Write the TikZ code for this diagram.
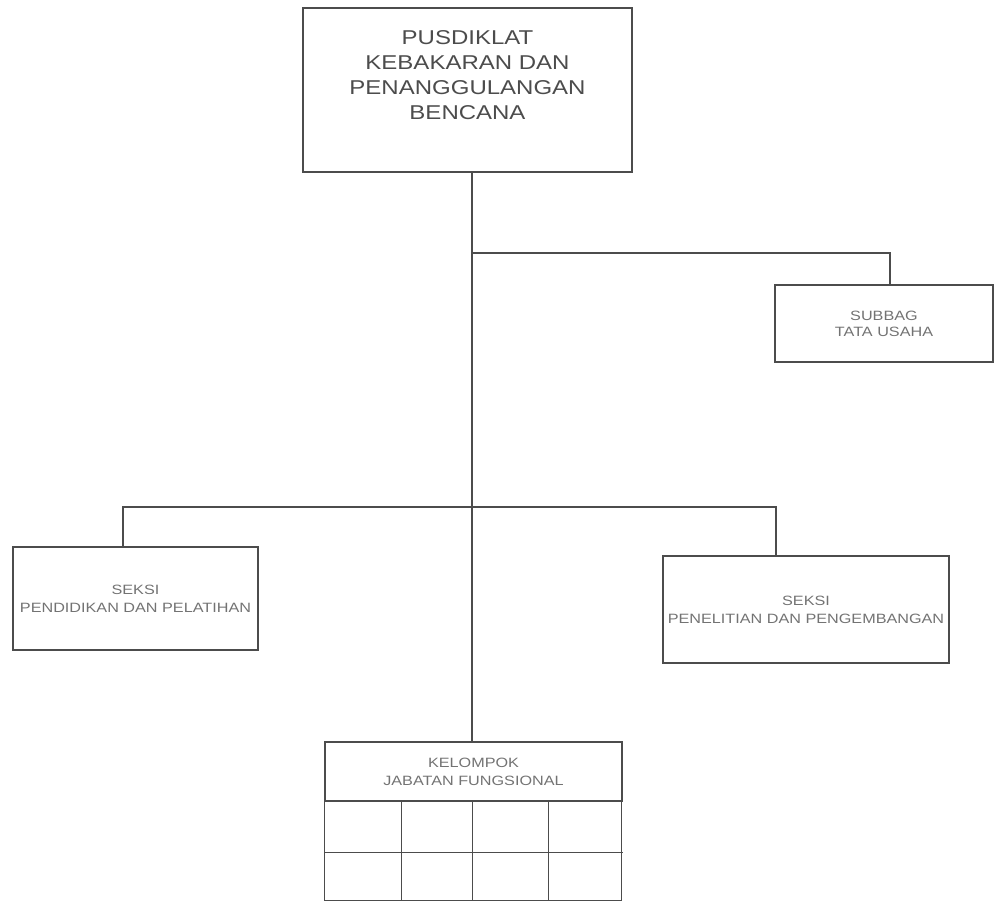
\documentclass[tikz,border=0pt]{standalone}
\usepackage{fontspec}
\newfontfamily\orgfont[FakeStretch=1.2]{Liberation Sans}

\begin{document}
\begin{tikzpicture}[x=1pt,y=-1pt,
		unitbox/.style={draw=black!70, line width=1.2pt, rectangle, inner sep=0pt, align=center,
			text=black!55, font=\orgfont\fontsize{13.5}{18}\selectfont},
		link/.style={draw=black!70, line width=1.2pt}]
			\useasboundingbox (0,0) rectangle (1002,904);
			% boxes
			\node[unitbox, minimum width=329pt, minimum height=164pt] (pusdiklat) at (467.5,90) {};
			\node[text=black!70, align=center, font=\orgfont\fontsize{20}{25}\selectfont] (pusdiklat-label) at (467.5,75) {PUSDIKLAT\\KEBAKARAN DAN\\PENANGGULANGAN\\BENCANA};
			\node[unitbox, minimum width=218pt, minimum height=77pt, font=\orgfont\fontsize{13.5}{16}\selectfont] (subbag) at (884,323.5) {SUBBAG\\TATA USAHA};
			\node[unitbox, minimum width=245pt, minimum height=103pt] (diklat) at (135.5,598.5) {SEKSI\\PENDIDIKAN DAN PELATIHAN};
			\node[unitbox, minimum width=286pt, minimum height=107pt] (litbang) at (806,609.5) {SEKSI\\PENELITIAN DAN PENGEMBANGAN};
			\node[unitbox, minimum width=297pt, minimum height=59pt] (kelompok) at (473.5,771.5) {KELOMPOK\\JABATAN FUNGSIONAL};
			% grid under kelompok
			\draw[link] (kelompok.south west) rectangle ++(297,99);
			\draw[link] ([yshift=-51pt]kelompok.south west) -- ([yshift=-51pt]kelompok.south east);
			\foreach \cx in {77,148,224}
				\draw[link] ([xshift=\cx pt]kelompok.south west) -- ++(0,99);
			% connectors
			\coordinate (upper-fork) at (472,253);
			\coordinate (lower-fork) at (472,507);
			\draw[link] (pusdiklat.south -| upper-fork) -- (upper-fork) -- (lower-fork) -- (lower-fork |- kelompok.north);
			\draw[link] (upper-fork) -| ([xshift=6pt]subbag.north);
			\draw[link] ([xshift=-12.5pt]diklat.north) |- (lower-fork) -| ([xshift=-30pt]litbang.north);
		\end{tikzpicture}
\end{document}
